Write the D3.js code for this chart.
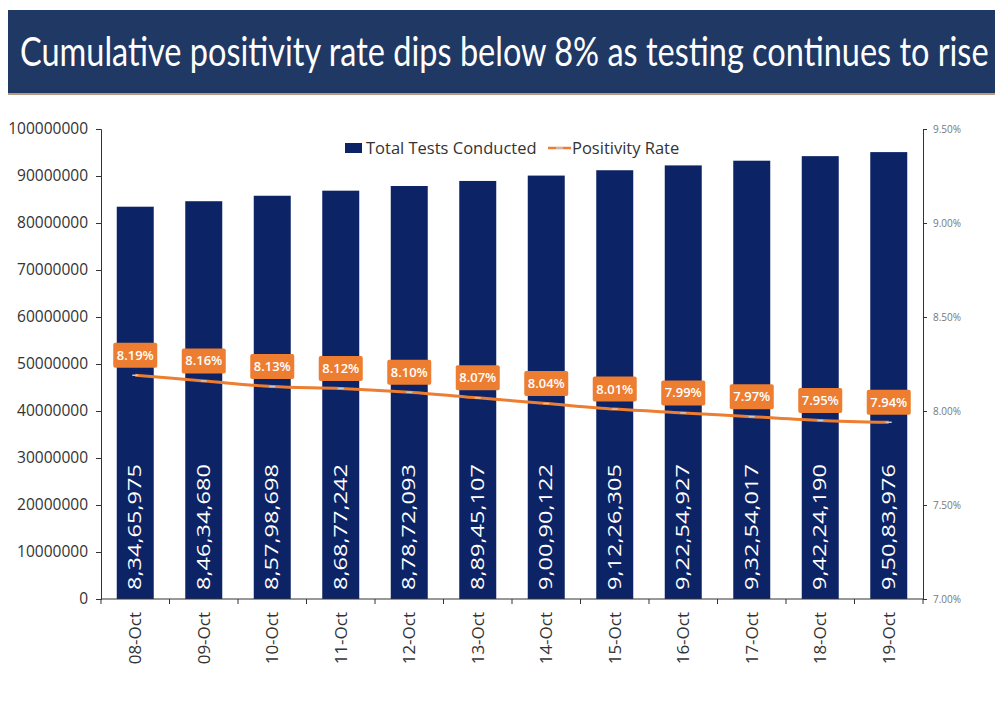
<!DOCTYPE html>
<html lang="en">
<head>
<meta charset="UTF-8">
<title>Cumulative positivity rate</title>
<style>
  body { margin: 0; background: #fff; }
  svg { display: block; }
</style>
</head>
<body>
<script src="https://d3js.org/d3.v7.min.js"></script>
<script>
  const dates = ['08-Oct', '09-Oct', '10-Oct', '11-Oct', '12-Oct', '13-Oct', '14-Oct', '15-Oct', '16-Oct', '17-Oct', '18-Oct', '19-Oct'];
  const totalTests = [83465975, 84634680, 85798698, 86877242, 87872093, 88945107, 90090122, 91226305, 92254927, 93254017, 94224190, 95083976];
  const positivity = [8.19, 8.16, 8.13, 8.12, 8.10, 8.07, 8.04, 8.01, 7.99, 7.97, 7.95, 7.94];
  const leftTicks = [0, 10000000, 20000000, 30000000, 40000000, 50000000, 60000000, 70000000, 80000000, 90000000, 100000000];
  const rightTicks = [7.0, 7.5, 8.0, 8.5, 9.0, 9.5];

  const W = 995, H = 706;
  const navy = '#0c2366', orange = '#ec7d31';
  const pLeft = 101, pRight = 923, pTop = 129, pBottom = 599;

  // indian style grouping 8,34,65,975
  function inr(n) {
    const s = String(n);
    const last3 = s.slice(-3);
    let rest = s.slice(0, -3);
    const parts = [];
    while (rest.length > 2) { parts.unshift(rest.slice(-2)); rest = rest.slice(0, -2); }
    if (rest) parts.unshift(rest);
    return parts.length ? parts.join(',') + ',' + last3 : last3;
  }

  const svg = d3.select('body').append('svg').attr('width', W).attr('height', H);

  // title banner
  svg.append('rect').attr('x', 8).attr('y', 10).attr('width', W - 8).attr('height', 83).attr('fill', '#1f3864');
  svg.append('rect').attr('x', 8).attr('y', 93).attr('width', W - 8).attr('height', 2).attr('fill', '#b89a7e');
  svg.append('text')
    .attr('transform', 'translate(20,66) scale(1,1.26)')
    .attr('fill', '#fff')
    .style('font-family', 'Lato, sans-serif')
    .style('font-size', '32.5px')
    .text('Cumulative positivity rate dips below 8% as testing continues to rise');

  const x = d3.scaleBand().domain(dates).range([pLeft, pRight]).paddingInner(0.46).paddingOuter(0.23);
  const xEdge = d3.scaleBand().domain(dates).range([pLeft, pRight]);
  const y = d3.scaleLinear().domain([0, 100000000]).range([pBottom, pTop]);
  const y2 = d3.scaleLinear().domain([7, 9.5]).range([pBottom, pTop]);

  // bars
  svg.selectAll('rect.bar').data(totalTests).enter().append('rect')
    .attr('class', 'bar')
    .attr('x', (d, i) => x(dates[i]))
    .attr('y', d => y(d))
    .attr('width', x.bandwidth())
    .attr('height', d => pBottom - y(d))
    .attr('fill', navy);

  // bar values
  svg.selectAll('text.val').data(totalTests).enter().append('text')
    .attr('class', 'val')
    .attr('transform', (d, i) => `translate(${x(dates[i]) + x.bandwidth() / 2 + 6},${pBottom - 9}) rotate(-90)`)
    .attr('fill', '#fff')
    .attr('textLength', 126).attr('lengthAdjust', 'spacingAndGlyphs')
    .style('font-family', '"Open Sans", sans-serif')
    .style('font-size', '18px')
    .style('font-weight', '500')
    .text(d => inr(d));

  // left axis
  const gl = svg.append('g').attr('transform', `translate(${pLeft},0)`)
    .call(d3.axisLeft(y).tickValues(leftTicks).tickFormat(d3.format('d')).tickSize(5).tickPadding(8));
  gl.selectAll('text').attr('fill', '#333').style('font-family', '"Open Sans", sans-serif').style('font-size', '15.5px');
  gl.selectAll('line, path').attr('stroke', '#333');

  // right axis
  const gr = svg.append('g').attr('transform', `translate(${pRight},0)`)
    .call(d3.axisRight(y2).tickValues(rightTicks).tickFormat(d => d3.format('.2f')(d) + '%').tickSize(4).tickPadding(6));
  gr.selectAll('text').attr('fill', '#777').style('font-family', '"Open Sans", sans-serif').style('font-size', '10px');
  gr.selectAll('line, path').attr('stroke', '#333');

  // x axis, ticks on category edges
  const gx = svg.append('g').attr('transform', `translate(0,${pBottom})`);
  gx.append('line').attr('x1', pLeft).attr('x2', pRight).attr('stroke', '#333');
  gx.selectAll('line.tk').data(dates.concat(['end'])).enter().append('line')
    .attr('class', 'tk')
    .attr('x1', (d, i) => i < dates.length ? xEdge(d) : pRight)
    .attr('x2', (d, i) => i < dates.length ? xEdge(d) : pRight)
    .attr('y1', 0).attr('y2', 5).attr('stroke', '#333');
  gx.selectAll('text').data(dates).enter().append('text')
    .attr('transform', d => `translate(${xEdge(d) + xEdge.bandwidth() / 2 + 6},13) rotate(-90)`)
    .attr('text-anchor', 'end')
    .attr('fill', '#333')
    .style('font-family', '"Open Sans", sans-serif')
    .style('font-size', '17px')
    .text(d => d);

  // positivity line
  const cx = (i) => x(dates[i]) + x.bandwidth() / 2;
  const line = d3.line().x((d, i) => cx(i)).y(d => y2(d)).curve(d3.curveMonotoneX);
  svg.append('path').datum(positivity).attr('d', line)
    .attr('fill', 'none').attr('stroke', orange).attr('stroke-width', 3);
  svg.selectAll('line.mk').data(positivity).enter().append('line')
    .attr('class', 'mk')
    .attr('x1', (d, i) => cx(i) - 3).attr('x2', (d, i) => cx(i) + 3)
    .attr('y1', d => y2(d)).attr('y2', d => y2(d))
    .attr('stroke', '#c9c9c9').attr('stroke-width', 1.5);

  // rate labels
  const lab = svg.selectAll('g.lab').data(positivity).enter().append('g')
    .attr('class', 'lab')
    .attr('transform', (d, i) => `translate(${cx(i)},${y2(d) - 20})`);
  lab.append('rect').attr('x', -22).attr('y', -12.5).attr('width', 44).attr('height', 25).attr('rx', 2)
    .attr('fill', orange);
  lab.append('text').attr('text-anchor', 'middle').attr('dy', '0.35em')
    .attr('fill', '#fff')
    .style('font-family', '"Open Sans", sans-serif').style('font-size', '13px').style('font-weight', '600')
    .attr('textLength', 37).attr('lengthAdjust', 'spacingAndGlyphs')
    .text(d => d3.format('.2f')(d) + '%');

  // legend
  const lg = svg.append('g').style('font-family', '"Open Sans", sans-serif').style('font-size', '16.5px');
  lg.append('rect').attr('x', 345).attr('y', 143).attr('width', 17).attr('height', 10).attr('fill', navy);
  lg.append('text').attr('x', 366).attr('y', 154).attr('fill', '#333').text('Total Tests Conducted');
  lg.append('line').attr('x1', 548).attr('x2', 571).attr('y1', 148).attr('y2', 148).attr('stroke', orange).attr('stroke-width', 2.5);
  lg.append('line').attr('x1', 556).attr('x2', 563).attr('y1', 148).attr('y2', 148).attr('stroke', '#c9c9c9').attr('stroke-width', 1.5);
  lg.append('text').attr('x', 572).attr('y', 154).attr('fill', '#333').text('Positivity Rate');
</script>
</body>
</html>
